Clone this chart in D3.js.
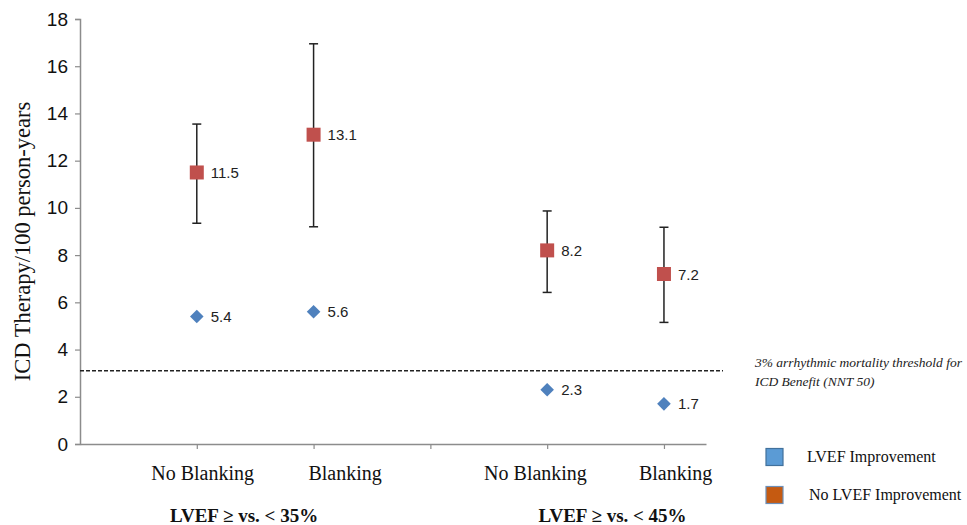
<!DOCTYPE html>
<html>
<head>
<meta charset="utf-8">
<script src="https://cdn.jsdelivr.net/npm/d3@7"></script>
<style>
  html, body { margin: 0; padding: 0; background: #fff; }
  svg { display: block; }
</style>
</head>
<body>
<svg id="chart" width="967" height="525"></svg>
<script>
// ---- data ----
const categories = ["No Blanking", "Blanking", "No Blanking", "Blanking"];
const categoryPos = [1, 2, 4, 5];
const groups = ["LVEF \u2265 vs. < 35%", "LVEF \u2265 vs. < 45%"];
const noImprovement = [11.5, 13.1, 8.2, 7.2];
const noImprovementLow = [9.35, 9.2, 6.42, 5.15];
const noImprovementHigh = [13.55, 16.95, 9.87, 9.18];
const improvement = [5.4, 5.6, 2.3, 1.7];
const yTicks = [0, 2, 4, 6, 8, 10, 12, 14, 16, 18];
const xTicks = [1, 2, 3, 4, 5];
const threshold = 3.1;
const seriesNames = ["LVEF Improvement", "No LVEF Improvement"];
const annotation = ["3% arrhythmic mortality threshold for", "ICD Benefit (NNT 50)"];

// ---- layout ----
const svg = d3.select("#chart");
const x = d3.scaleLinear().domain([0, 5.36]).range([80, 706]);
const y = d3.scaleLinear().domain([0, 18]).range([444, 19]);
const red = "#c0504d", blue = "#4f81bd";
const axisGray = "#8c8c8c";

// y axis
const yAxis = svg.append("g").attr("transform", `translate(${x(0)},0)`)
  .call(d3.axisLeft(y).tickValues(yTicks).tickSize(5).tickPadding(7));
yAxis.select(".domain").attr("stroke", axisGray).attr("stroke-width", 1.5);
yAxis.selectAll(".tick line").attr("stroke", axisGray).attr("stroke-width", 1.2);
yAxis.selectAll(".tick text").attr("font-family", "Liberation Sans, Arial, sans-serif")
  .attr("font-size", 19).attr("fill", "#111");

// x axis
const xAxis = svg.append("g").attr("transform", `translate(0,${y(0)})`)
  .call(d3.axisBottom(x).tickValues(xTicks).tickSize(5).tickSizeOuter(0).tickFormat(""));
xAxis.select(".domain").attr("stroke", axisGray).attr("stroke-width", 1.5);
xAxis.selectAll(".tick line").attr("stroke", axisGray).attr("stroke-width", 1.2);

// y label
svg.append("text")
  .attr("transform", `translate(30,${(y(0) + y(18)) / 2 + 10}) rotate(-90)`)
  .attr("text-anchor", "middle")
  .attr("font-family", "Liberation Serif, Times New Roman, serif")
  .attr("font-size", 22.5).attr("fill", "#111")
  .text("ICD Therapy/100 person-years");

// category labels
const labelShift = [0.05, 0.27, -0.1, 0.1];
svg.selectAll("text.cat").data(categories).enter().append("text")
  .attr("class", "cat")
  .attr("x", (d, i) => x(categoryPos[i] + labelShift[i]))
  .attr("y", 480)
  .attr("text-anchor", "middle")
  .attr("font-family", "Liberation Serif, Times New Roman, serif")
  .attr("font-size", 20).attr("fill", "#111")
  .text(d => d);

// group labels
const groupPos = [1.405, 4.56];
svg.selectAll("text.grp").data(groups).enter().append("text")
  .attr("class", "grp")
  .attr("x", (d, i) => x(groupPos[i]))
  .attr("y", 522)
  .attr("text-anchor", "middle")
  .attr("font-family", "Liberation Serif, Times New Roman, serif")
  .attr("font-weight", "bold")
  .attr("font-size", 19).attr("fill", "#111")
  .text(d => d);

// threshold line
svg.append("line")
  .attr("x1", x(0)).attr("x2", 723)
  .attr("y1", y(threshold)).attr("y2", y(threshold))
  .attr("stroke", "#222").attr("stroke-width", 1.5)
  .attr("stroke-dasharray", "4,2");

const ann = svg.append("text")
  .attr("font-family", "Liberation Serif, Times New Roman, serif")
  .attr("font-style", "italic")
  .attr("font-size", 13.5).attr("fill", "#222");
annotation.forEach((t, i) => {
  ann.append("tspan").attr("x", 755).attr("y", 367 + i * 19).text(t);
});

// error bars
const eb = svg.append("g");
noImprovement.forEach((v, i) => {
  const cx = x(categoryPos[i]);
  eb.append("line").attr("x1", cx).attr("x2", cx)
    .attr("y1", y(noImprovementLow[i])).attr("y2", y(noImprovementHigh[i]))
    .attr("stroke", "#222").attr("stroke-width", 1.5);
  [noImprovementLow[i], noImprovementHigh[i]].forEach(e => {
    eb.append("line").attr("x1", cx - 4.5).attr("x2", cx + 4.5)
      .attr("y1", y(e)).attr("y2", y(e))
      .attr("stroke", "#222").attr("stroke-width", 1.5);
  });
});

// red squares
const sq = 14;
svg.selectAll("rect.noimp").data(noImprovement).enter().append("rect")
  .attr("class", "noimp")
  .attr("x", (d, i) => x(categoryPos[i]) - sq / 2)
  .attr("y", d => y(d) - sq / 2)
  .attr("width", sq).attr("height", sq)
  .attr("fill", red);

// blue diamonds
const dm = 6.8;
svg.selectAll("path.imp").data(improvement).enter().append("path")
  .attr("class", "imp")
  .attr("d", (d, i) => {
    const cx = x(categoryPos[i]), cy = y(d);
    return `M${cx},${cy - dm}L${cx + dm},${cy}L${cx},${cy + dm}L${cx - dm},${cy}Z`;
  })
  .attr("fill", blue);

// data labels
const lblFont = "Liberation Sans, Arial, sans-serif";
svg.selectAll("text.lr").data(noImprovement).enter().append("text")
  .attr("x", (d, i) => x(categoryPos[i]) + 14)
  .attr("y", d => y(d) + 5.5)
  .attr("font-family", lblFont).attr("font-size", 15).attr("fill", "#222")
  .text(d => d.toFixed(1));
svg.selectAll("text.lb").data(improvement).enter().append("text")
  .attr("x", (d, i) => x(categoryPos[i]) + 14)
  .attr("y", d => y(d) + 5.5)
  .attr("font-family", lblFont).attr("font-size", 15).attr("fill", "#222")
  .text(d => d.toFixed(1));

// legend
const legColors = [["#5b9bd5", "#41719c"], ["#c55a11", "#6d8fb8"]];
seriesNames.forEach((n, i) => {
  const cy = 457 + i * 38;
  svg.append("rect").attr("x", 766).attr("y", cy - 8.5).attr("width", 17).attr("height", 17)
    .attr("fill", legColors[i][0]).attr("stroke", legColors[i][1]).attr("stroke-width", 1.2);
  svg.append("text").attr("x", 807 + i * 2).attr("y", cy + 5)
    .attr("font-family", "Liberation Serif, Times New Roman, serif")
    .attr("font-size", 16).attr("fill", "#111").text(n);
});
</script>
</body>
</html>
